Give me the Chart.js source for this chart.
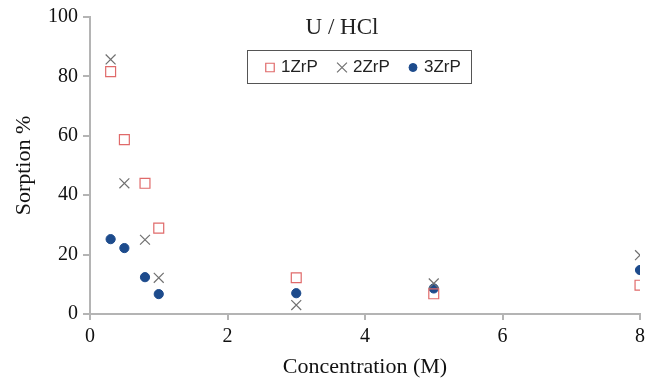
<!DOCTYPE html>
<html>
<head>
<meta charset="utf-8">
<script src="https://cdn.jsdelivr.net/npm/chart.js@4/dist/chart.umd.min.js"></script>
<style>
  html, body { margin: 0; padding: 0; background: #fff; }
  #wrap { width: 653px; height: 381px; }
</style>
</head>
<body>
<div id="wrap"><canvas id="chart1" width="653" height="381"></canvas></div>
<script>
'use strict';

// concentration of HCl (M)
var concentration = [0.3, 0.5, 0.8, 1.0, 3, 5, 8];

// sorption % per sorbent
var sorption1ZrP = [81.6, 58.7, 44, 28.9, 12.2, 6.8, 9.7];
var sorption2ZrP = [85.7, 44, 25, 12.2, 3, 10.3, 19.8];
var sorption3ZrP = [25.2, 22.2, 12.4, 6.7, 7.0, 8.6, 14.8];

var seriesNames = ['1ZrP', '2ZrP', '3ZrP'];
var xTicks = [0, 2, 4, 6, 8];
var chartTitle = 'U / HCl';

(function (global) {

  function toPoints(xs, ys) {
    return xs.map(function (x, i) {
      return { x: x, y: ys[i] };
    });
  }

  /**
   * Title and boxed legend both sit inside the plot area,
   * so they are painted by hand after the datasets.
   */
  var insideLegend = {
    id: 'insideLegend',
    afterDraw: function (chart) {
      var ctx = chart.ctx;
      ctx.save();

      ctx.fillStyle = '#222';
      ctx.font = '23px "Liberation Serif", serif';
      ctx.textAlign = 'center';
      ctx.textBaseline = 'middle';
      ctx.fillText(chartTitle, 342, 28);

      ctx.strokeStyle = '#555';
      ctx.lineWidth = 1;
      ctx.strokeRect(247.5, 50.5, 224, 33);

      var markX = [270, 342, 413];
      ctx.textAlign = 'left';
      chart.data.datasets.forEach(function (ds, i) {
        ctx.fillStyle = ds.backgroundColor;
        ctx.strokeStyle = ds.borderColor;
        ctx.lineWidth = ds.borderWidth;
        Chart.helpers.drawPoint(ctx, {
          pointStyle: ds.pointStyle,
          radius: ds.legendRadius,
          borderWidth: ds.borderWidth,
          rotation: 0
        }, markX[i], 67.5);
        ctx.fillStyle = '#222';
        ctx.font = '17px "Liberation Sans", sans-serif';
        ctx.fillText(ds.label, markX[i] + 11, 67.5);
      });
      ctx.restore();
    }
  };

  function renderChart() {
    var ctx = document.getElementById('chart1').getContext('2d');
    var axisColor = '#b4b4b4';
    var tickFont = { family: '"Liberation Serif", serif', size: 20 };
    var titleFont = { family: '"Liberation Serif", serif', size: 22 };

    new Chart(ctx, {
      type: 'scatter',
      data: {
        datasets: [
          {
            label: seriesNames[0],
            data: toPoints(concentration, sorption1ZrP),
            pointStyle: 'rect',
            pointRadius: 7,
            legendRadius: 6,
            borderWidth: 1.2,
            borderColor: '#e06a6a',
            backgroundColor: 'transparent'
          },
          {
            label: seriesNames[1],
            data: toPoints(concentration, sorption2ZrP),
            pointStyle: 'crossRot',
            pointRadius: 7,
            legendRadius: 7,
            borderWidth: 1.2,
            borderColor: '#707070',
            backgroundColor: 'transparent'
          },
          {
            label: seriesNames[2],
            data: toPoints(concentration, sorption3ZrP),
            pointStyle: 'circle',
            pointRadius: 4.6,
            legendRadius: 4,
            borderWidth: 1,
            borderColor: '#1d4b8c',
            backgroundColor: '#1d4b8c'
          }
        ]
      },
      options: {
        responsive: false,
        animation: false,
        layout: { padding: { left: 0, right: 13, top: 17, bottom: 0 } },
        plugins: {
          legend: { display: false },
          tooltip: { enabled: false }
        },
        scales: {
          x: {
            type: 'linear',
            min: 0,
            max: 8,
            afterBuildTicks: function (scale) {
              scale.ticks = xTicks.map(function (v) { return { value: v }; });
            },
            afterFit: function (scale) { scale.height = 67; },
            border: { color: axisColor, width: 2 },
            grid: { drawOnChartArea: false, drawTicks: true, tickLength: 6, color: axisColor, lineWidth: 2 },
            ticks: { color: '#111', font: tickFont, padding: 5, maxRotation: 0 },
            title: {
              display: true,
              text: 'Concentration (M)',
              color: '#111',
              font: titleFont,
              padding: { top: 0, bottom: 1 }
            }
          },
          y: {
            min: 0,
            max: 100,
            afterFit: function (scale) { scale.width = 90; },
            border: { color: axisColor, width: 2 },
            grid: { drawOnChartArea: false, drawTicks: true, tickLength: 7, color: axisColor, lineWidth: 2 },
            ticks: { stepSize: 20, color: '#111', font: tickFont, padding: 5 },
            title: {
              display: true,
              text: 'Sorption %',
              color: '#111',
              font: titleFont,
              padding: { top: 11, bottom: 0 }
            }
          }
        }
      },
      plugins: [insideLegend]
    });
  }

  global.renderChart = renderChart;

})(this);

renderChart();
</script>
</body>
</html>
